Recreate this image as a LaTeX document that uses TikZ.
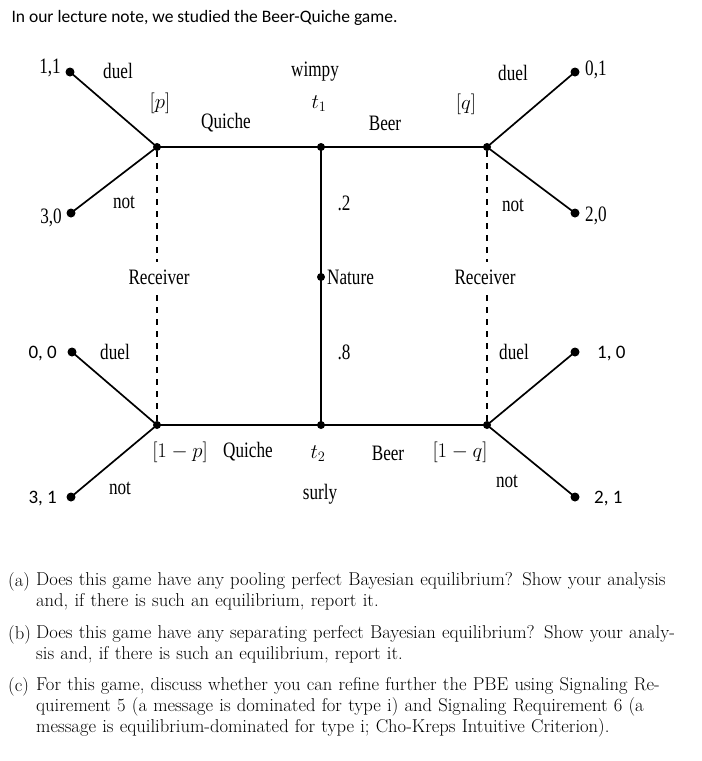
\documentclass[tikz,border=0pt]{standalone}
\usepackage{fontspec}
\setmainfont{Latin Modern Roman}
\newfontfamily\figfont[FakeStretch=0.78]{Liberation Serif}
\newfontfamily\titlefont{Carlito}
\begin{document}
\begin{tikzpicture}[x=1pt,y=-1pt,
  dot/.style={circle,fill=black,inner sep=0pt,minimum size=9pt},
  lbl/.style={font=\figfont\fontsize{22}{24}\selectfont,inner sep=1pt},
  pay/.style={font=\figfont\fontsize{22}{24}\selectfont,inner sep=1pt},
  payb/.style={font=\titlefont\fontsize{19}{21}\selectfont,inner sep=1pt},
  edge/.style={line width=1.7pt},
  info/.style={line width=1.3pt,dash pattern=on 6pt off 6pt}]
\useasboundingbox (0,0) rectangle (702,761);
\node[anchor=west,font=\titlefont\fontsize{17.5}{19}\selectfont] at (8,18) {In our lecture note, we studied the Beer-Quiche game.};
% decision nodes
\node[dot,minimum size=8pt] (L1) at (157,147) {};
\node[dot,minimum size=8pt] (T1) at (321,147) {};
\node[dot,minimum size=8pt] (R1) at (487,147) {};
\node[dot,minimum size=8pt] (L2) at (157,425) {};
\node[dot,minimum size=8pt] (T2) at (321,425) {};
\node[dot,minimum size=8pt] (R2) at (487,425) {};
\node[dot,minimum size=8pt] (N) at (321,277) {};
% terminals
\node[dot] (a) at (70,72) {};
\node[dot] (b) at (71,213) {};
\node[dot] (c) at (72,352) {};
\node[dot] (d) at (71,497) {};
\node[dot] (e) at (575,72) {};
\node[dot] (f) at (575,213) {};
\node[dot] (g) at (575,352) {};
\node[dot] (h) at (575,497) {};
% edges
\draw[edge] (L1.center)--(T1.center)--(R1.center);
\draw[edge] (L2.center)--(T2.center)--(R2.center);
\draw[edge] (T1.center)--(N.center)--(T2.center);
\draw[edge] (L1.center)--(a.center) (L1.center)--(b.center);
\draw[edge] (L2.center)--(c.center) (L2.center)--(d.center);
\draw[edge] (R1.center)--(e.center) (R1.center)--(f.center);
\draw[edge] (R2.center)--(g.center) (R2.center)--(h.center);
\draw[info] (L1)--(157,262) (157,295)--(L2);
\draw[info] (R1)--(487,262) (487,295)--(R2);
% labels
\node[pay,anchor=east] at (62,68) {1,1};
\node[pay,anchor=east] at (63,218) {3,0};
\node[payb,anchor=east] at (58,354) {0, 0};
\node[payb,anchor=east] at (58,499) {3, 1};
\node[pay,anchor=west] at (584,70) {0,1};
\node[pay,anchor=west] at (584,216) {2,0};
\node[payb,anchor=west] at (596,354) {1, 0};
\node[payb,anchor=west] at (593,499) {2, 1};
\node[lbl] at (118,71) {duel};
\node[lbl] at (124,202) {not};
\node[lbl] at (115,352) {duel};
\node[lbl] at (120,488) {not};
\node[lbl] at (513,73) {duel};
\node[lbl] at (513,205) {not};
\node[lbl] at (514,352) {duel};
\node[lbl] at (507,481) {not};
\node[lbl] at (160,103) {$[p]$};
\node[lbl] at (226,123) {Quiche};
\node[lbl] at (315,72) {wimpy};
\node[lbl] at (319,104) {$t_1$};
\node[lbl] at (385,123) {Beer};
\node[lbl] at (466,104) {$[q]$};
\node[lbl] at (344,203) {.2};
\node[lbl,anchor=west] at (326,277) {Nature};
\node[lbl] at (159,277) {Receiver};
\node[lbl] at (485,277) {Receiver};
\node[lbl] at (344,352) {.8};
\node[lbl] at (180,452) {$[1-p]$};
\node[lbl] at (248,452) {Quiche};
\node[lbl] at (318,454) {$t_2$};
\node[lbl] at (388,453) {Beer};
\node[lbl] at (460,452) {$[1-q]$};
\node[lbl] at (320,494) {surly};
% questions
\begin{scope}[every node/.style={anchor=north west,align=left,font=\fontsize{18.6}{21}\selectfont,inner sep=0pt}]
\node at (8,572) {(a)};
\node[text width=640pt] at (36,572) {Does this game have any pooling perfect Bayesian equilibrium? Show your analysis and, if there is such an equilibrium, report it.};
\node at (8,625) {(b)};
\node[text width=640pt] at (36,625) {Does this game have any separating perfect Bayesian equilibrium? Show your analysis and, if there is such an equilibrium, report it.};
\node at (8,677) {(c)};
\node[text width=640pt] at (36,677) {For this game, discuss whether you can refine further the PBE using Signaling Requirement 5 (a message is dominated for type i) and Signaling Requirement 6 (a message is equilibrium-dominated for type i; Cho-Kreps Intuitive Criterion).};
\end{scope}
\end{tikzpicture}
\end{document}
